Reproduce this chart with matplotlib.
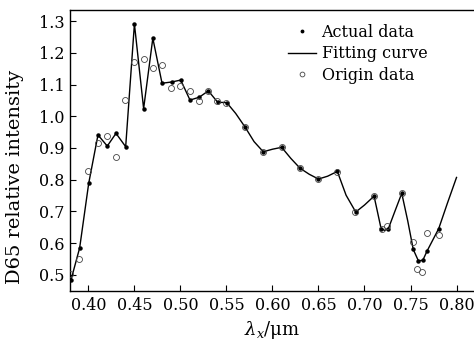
import matplotlib
matplotlib.use("Agg")
import matplotlib.pyplot as plt

plt.rcParams['font.family'] = ['DejaVu Serif']
plt.rcParams['mathtext.fontset'] = 'custom'
plt.rcParams['mathtext.it'] = 'DejaVu Serif:italic'
plt.rcParams['mathtext.rm'] = 'DejaVu Serif'

# Actual data (black dots)
actual_x = [0.381, 0.3905, 0.4003, 0.4104, 0.4205, 0.430, 0.4405, 0.450, 0.460, 0.470,
            0.480, 0.4905, 0.5003, 0.5104, 0.5205, 0.5303, 0.5405, 0.5503, 0.5702, 0.590,
            0.610, 0.630, 0.650, 0.6705, 0.6905, 0.7104, 0.718, 0.726, 0.7405, 0.753,
            0.7586, 0.7634, 0.768, 0.7807]
actual_y = [0.483, 0.585, 0.788, 0.941, 0.906, 0.946, 0.904, 1.291, 1.024, 1.246,
            1.104, 1.108, 1.114, 1.051, 1.060, 1.080, 1.044, 1.043, 0.966, 0.888,
            0.902, 0.836, 0.802, 0.826, 0.698, 0.748, 0.646, 0.646, 0.757, 0.580,
            0.544, 0.546, 0.575, 0.646]

# Fitting curve
fit_x = [0.380, 0.381, 0.3905, 0.4003, 0.4104, 0.4205, 0.430, 0.4405, 0.450, 0.460,
         0.470, 0.480, 0.4905, 0.5003, 0.5104, 0.5205, 0.5303, 0.5405, 0.5503, 0.560,
         0.5702, 0.580, 0.590, 0.600, 0.610, 0.620, 0.630, 0.640, 0.650, 0.660,
         0.6705, 0.680, 0.6905, 0.700, 0.7104, 0.714, 0.718, 0.722, 0.726, 0.733,
         0.7405, 0.747, 0.753, 0.7586, 0.7634, 0.768, 0.7807, 0.790, 0.800]
fit_y = [0.478, 0.483, 0.585, 0.788, 0.941, 0.906, 0.946, 0.904, 1.291, 1.024,
         1.246, 1.104, 1.108, 1.114, 1.051, 1.060, 1.080, 1.044, 1.043, 1.009,
         0.966, 0.920, 0.888, 0.896, 0.902, 0.867, 0.836, 0.817, 0.802, 0.811,
         0.826, 0.751, 0.698, 0.720, 0.748, 0.700, 0.646, 0.640, 0.646, 0.700,
         0.757, 0.670, 0.580, 0.544, 0.546, 0.575, 0.646, 0.725, 0.807]

# Origin data (open circles)
origin_x = [0.380, 0.390, 0.400, 0.410, 0.420, 0.430, 0.440, 0.450, 0.460, 0.470,
            0.480, 0.490, 0.500, 0.510, 0.520, 0.530, 0.540, 0.550, 0.570, 0.590,
            0.610, 0.630, 0.650, 0.670, 0.690, 0.710, 0.7188, 0.725, 0.7405, 0.753,
            0.7575, 0.7626, 0.7677, 0.7807]
origin_y = [0.504, 0.549, 0.828, 0.916, 0.9375, 0.870, 1.051, 1.172, 1.180, 1.151,
            1.1615, 1.089, 1.095, 1.0795, 1.048, 1.080, 1.047, 1.043, 0.966, 0.888,
            0.902, 0.836, 0.802, 0.825, 0.697, 0.748, 0.643, 0.654, 0.757, 0.604,
            0.517, 0.5085, 0.6306, 0.627]

xticks = [0.40, 0.45, 0.50, 0.55, 0.60, 0.65, 0.70, 0.75, 0.80]
yticks = [0.5, 0.6, 0.7, 0.8, 0.9, 1.0, 1.1, 1.2, 1.3]

fig = plt.figure(figsize=(4.74, 3.5), dpi=100)
ax = fig.add_axes([70/474, 59/350, 1 - 70/474, (291 - 10.3)/350])

ax.plot(actual_x, actual_y, linestyle='none', marker='o', markersize=2.2,
        color='black', label='Actual data', zorder=4)
ax.plot(fit_x, fit_y, '-', color='black', linewidth=1.0, label='Fitting curve', zorder=3)
ax.plot(origin_x, origin_y, linestyle='none', marker='o', markersize=4.3,
        markerfacecolor='none', markeredgecolor='#444444', markeredgewidth=0.6,
        label='Origin data', zorder=5)

ax.set_xlim(0.38, 0.819)
ax.set_ylim(0.449, 1.334)
ax.set_xticks(xticks)
ax.set_xticklabels([f"{t:.2f}" for t in xticks])
ax.set_yticks(yticks)
ax.set_yticklabels([f"{t:.1f}" for t in yticks])

ax.spines['right'].set_visible(False)
for s in ['top', 'left', 'bottom']:
    ax.spines[s].set_linewidth(1.0)
ax.tick_params(direction='in', length=4, width=0.8, labelsize=11.5, pad=4,
               top=False, right=False)

ax.set_xlabel(r'$\lambda_x$/μm', fontsize=13, labelpad=4)
ax.set_ylabel('D65 relative intensity', fontsize=14)
ax.yaxis.set_label_coords(-0.113, 0.405)

leg = ax.legend(loc='upper left', frameon=False, fontsize=11.5,
                handlelength=1.75, handletextpad=0.35, labelspacing=0.28,
                borderpad=0, borderaxespad=0, markerscale=0.8,
                bbox_to_anchor=(288/474, 1 - 24/350), bbox_transform=fig.transFigure)

fig.savefig('out.png', dpi=100)
